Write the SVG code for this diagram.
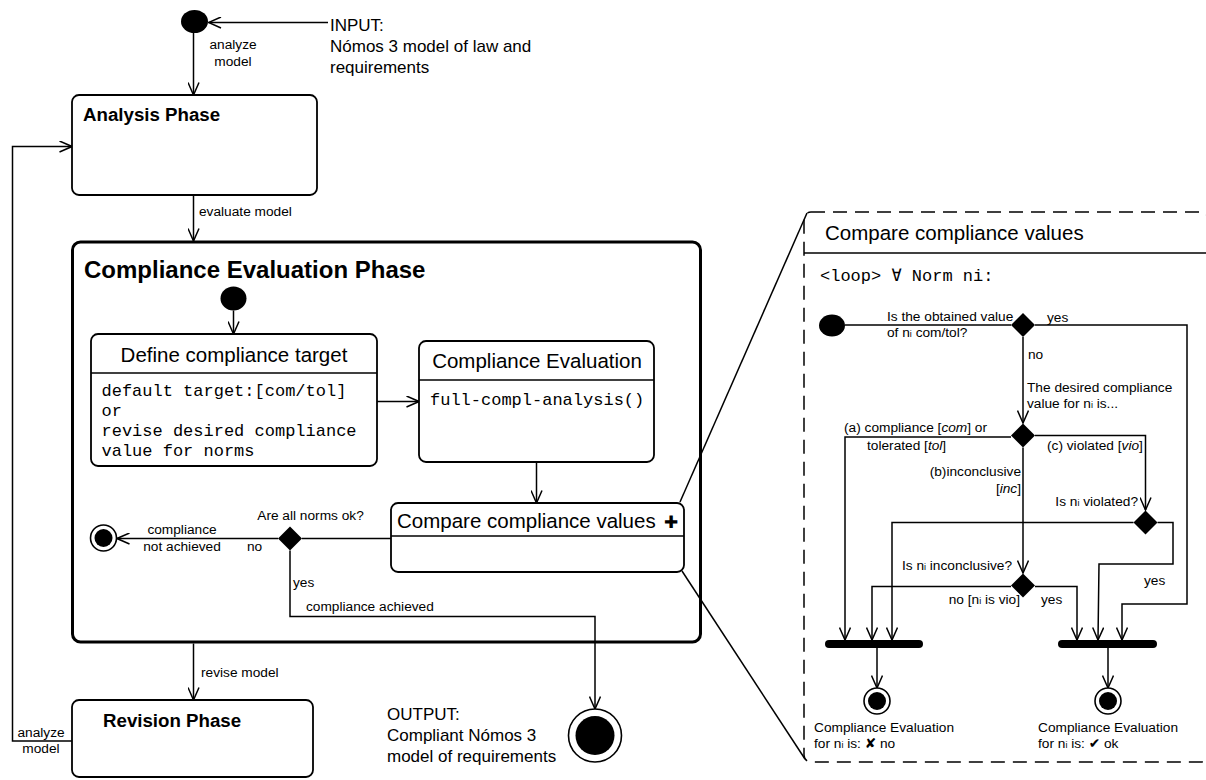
<svg xmlns="http://www.w3.org/2000/svg" width="1206" height="780" viewBox="0 0 1206 780">
  <defs>
    <style>
      .ln { fill: none; stroke: #000; stroke-width: 1.5; }
      .arr { marker-end: url(#open); }
      .box { fill: #fff; stroke: #000; stroke-width: 1.8; }
      .dot { fill: #000; stroke: none; }
      .ring { fill: #fff; stroke: #000; stroke-width: 1.6; }
      .t { font-family: "Liberation Sans", Arial, Helvetica, sans-serif; fill: #000; }
      .lbl { font-size: 13.7px; }
      .big { font-size: 17px; }
      .ttl { font-size: 20.5px; }
      .hd { font-size: 18.7px; font-weight: bold; }
      .mono { font-family: "Liberation Mono", "Courier New", "DejaVu Sans Mono", monospace; font-size: 17px; fill: #000; }
      .sym { font-family: "DejaVu Sans", sans-serif; }
      .sub { font-size: 9px; }
      .mid { text-anchor: middle; }
      .end { text-anchor: end; }
      .bar { stroke: #000; stroke-width: 8; stroke-linecap: round; }
    </style>
    <marker id="open" viewBox="0 0 14 12" refX="13" refY="6" markerWidth="14" markerHeight="12" markerUnits="userSpaceOnUse" orient="auto">
      <path d="M0.5,0.5 L13,6 L0.5,11.5" fill="none" stroke="#000" stroke-width="1.5"/>
    </marker>
  </defs>

  <rect width="1206" height="780" fill="#fff"/>

  <!-- connectors -->
  <g id="connectors">
    <path class="ln arr" d="M328,22.5 L208.5,22.5"/>
    <path class="ln arr" d="M193.5,33 L193.5,95"/>
    <path class="ln arr" d="M193.5,195 L193.5,241"/>
    <path class="ln arr" d="M72,741 L12.5,741 L12.5,146.5 L72,146.5"/>
    <path class="ln arr" d="M233.5,310.5 L233.5,334"/>
    <path class="ln arr" d="M377,401.5 L419,401.5"/>
    <path class="ln arr" d="M536.5,462 L536.5,503"/>
    <path class="ln" d="M391,538.5 L302,538.5"/>
    <path class="ln arr" d="M278,538.5 L117,538.5"/>
    <path class="ln arr" d="M290,550.5 L290,616.5 L595,616.5 L595,709"/>
    <path class="ln arr" d="M193.5,643.5 L193.5,700"/>
    <!-- zoom lines to detail panel -->
    <path class="ln" d="M680,502 L807,213"/>
    <path class="ln" d="M682,571 L805,759"/>
    <!-- detail panel flow -->
    <path class="ln" d="M845,325 L1011,325"/>
    <path class="ln arr" d="M1035,325 L1187,325 L1187,604 L1122,604 L1122,640"/>
    <path class="ln arr" d="M1023,337 L1023,423"/>
    <path class="ln arr" d="M1011,437 L845,437 L845,640"/>
    <path class="ln arr" d="M1035,435.5 L1145.5,435.5 L1145.5,510"/>
    <path class="ln arr" d="M1023,447.5 L1023,573"/>
    <path class="ln arr" d="M1133.5,522.5 L892,522.5 L892,640"/>
    <path class="ln arr" d="M1157.5,522.5 L1173,522.5 L1173,564 L1099,564 L1098,640"/>
    <path class="ln arr" d="M1011,586.5 L872,586.5 L872,640"/>
    <path class="ln arr" d="M1035,586.5 L1077,586.5 L1077,640"/>
    <path class="ln arr" d="M877,648 L877,688"/>
    <path class="ln arr" d="M1108,648 L1108,688"/>
  </g>

  <!-- connector labels -->
  <g id="labels" class="t lbl">
    <text x="233" y="49" class="mid">analyze</text>
    <text x="233" y="66" class="mid">model</text>
    <text x="199" y="216">evaluate model</text>
    <text x="41" y="737" class="mid">analyze</text>
    <text x="41" y="753" class="mid">model</text>
    <text x="201" y="677">revise model</text>
    <text x="310.5" y="520" class="mid">Are all norms ok?</text>
    <text x="182" y="534" class="mid">compliance</text>
    <text x="182" y="551" class="mid">not achieved</text>
    <text x="247" y="551">no</text>
    <text x="293" y="587">yes</text>
    <text x="306" y="611">compliance achieved</text>
  </g>

  <g id="input-note" class="t big">
    <text x="330" y="31">INPUT:</text>
    <text x="330" y="52">Nómos 3 model of law and</text>
    <text x="330" y="73">requirements</text>
  </g>

  <g id="output-note" class="t big">
    <text x="387" y="720">OUTPUT:</text>
    <text x="387" y="741">Compliant Nómos 3</text>
    <text x="387" y="762">model of requirements</text>
  </g>

  <!-- top-level phases -->
  <g id="start">
    <ellipse class="dot" cx="194.5" cy="21.5" rx="13.5" ry="11.5"/>
  </g>

  <g id="analysis-phase">
    <rect class="box" x="72" y="95" width="245" height="100" rx="7"/>
    <text class="t hd" x="83" y="121">Analysis Phase</text>
  </g>

  <g id="compliance-evaluation-phase">
    <rect x="72.5" y="242" width="628" height="400" rx="8" fill="none" stroke="#000" stroke-width="3"/>
    <text class="t" x="84" y="278" font-size="24" font-weight="bold">Compliance Evaluation Phase</text>
  </g>

  <g id="inner-start">
    <ellipse class="dot" cx="233.5" cy="298.5" rx="13" ry="12"/>
  </g>

  <g id="define-target">
    <rect class="box" x="91" y="334" width="286" height="132" rx="7"/>
    <path class="ln" d="M91,373 L377,373"/>
    <text class="t ttl mid" x="234" y="362">Define compliance target</text>
    <text class="mono" x="101.5" y="396">default target:[com/tol]</text>
    <text class="mono" x="101.5" y="416">or</text>
    <text class="mono" x="101.5" y="436">revise desired compliance</text>
    <text class="mono" x="101.5" y="456">value for norms</text>
  </g>

  <g id="compliance-evaluation">
    <rect class="box" x="419" y="341" width="235" height="121" rx="7"/>
    <path class="ln" d="M419,380 L654,380"/>
    <text class="t ttl mid" x="537" y="368">Compliance Evaluation</text>
    <text class="mono" x="430" y="405">full-compl-analysis()</text>
  </g>

  <g id="compare-values">
    <rect class="box" x="391" y="503" width="293" height="69" rx="7"/>
    <path class="ln" d="M391,536 L684,536"/>
    <text class="t ttl" x="397" y="528">Compare compliance values</text>
    <text class="sym" x="664" y="528" font-size="17">✚</text>
  </g>

  <g id="all-norms-ok">
    <polygon class="dot" points="290,526.5 302,538.5 290,550.5 278,538.5"/>
  </g>

  <g id="end-not-achieved">
    <circle class="ring" cx="103.5" cy="538" r="13"/>
    <circle class="dot" cx="103.5" cy="538" r="9"/>
  </g>

  <g id="end-achieved">
    <circle class="ring" cx="595" cy="735.5" r="26.5"/>
    <circle class="dot" cx="595" cy="735.5" r="19.5"/>
  </g>

  <g id="revision-phase">
    <rect class="box" x="72" y="700" width="241" height="77" rx="7"/>
    <text class="t hd" x="103" y="727">Revision Phase</text>
  </g>

  <!-- detail panel -->
  <g id="compare-detail">
    <rect x="804" y="212" width="404" height="550" rx="7" fill="none" stroke="#000" stroke-width="1.5" stroke-dasharray="14 8"/>
    <path class="ln" d="M804,253 L1208,253"/>
    <text class="t ttl" x="825" y="240">Compare compliance values</text>
    <text class="mono" x="820" y="281">&lt;loop&gt; ∀ Norm ni:</text>
  </g>

  <g id="detail-start">
    <ellipse class="dot" cx="832" cy="325.5" rx="13" ry="11"/>
  </g>

  <g id="d-obtained">
    <polygon class="dot" points="1023,313 1035,325 1023,337 1011,325"/>
  </g>
  <g id="d-desired">
    <polygon class="dot" points="1023,423.5 1035,435.5 1023,447.5 1011,435.5"/>
  </g>
  <g id="d-violated">
    <polygon class="dot" points="1145.5,510.5 1157.5,522.5 1145.5,534.5 1133.5,522.5"/>
  </g>
  <g id="d-inconclusive">
    <polygon class="dot" points="1023,573.5 1035,585.5 1023,597.5 1011,585.5"/>
  </g>

  <g id="join-no">
    <line class="bar" x1="829" y1="644" x2="919" y2="644"/>
  </g>
  <g id="join-ok">
    <line class="bar" x1="1062" y1="644" x2="1153" y2="644"/>
  </g>

  <g id="end-no">
    <circle class="ring" cx="877" cy="701" r="13"/>
    <circle class="dot" cx="877" cy="701" r="9"/>
  </g>
  <g id="end-ok">
    <circle class="ring" cx="1108" cy="701" r="13"/>
    <circle class="dot" cx="1108" cy="701" r="9"/>
  </g>

  <g id="detail-labels" class="t lbl">
    <text x="887" y="321">Is the obtained value</text>
    <text x="887" y="337">of n<tspan class="sub">i</tspan> com/tol?</text>
    <text x="1047" y="322">yes</text>
    <text x="1028" y="359">no</text>
    <text x="1027" y="392">The desired compliance</text>
    <text x="1027" y="408">value for n<tspan class="sub">i</tspan> is...</text>
    <text x="844" y="432">(a) compliance [<tspan font-style="italic">com</tspan>] or</text>
    <text x="867" y="450">tolerated [<tspan font-style="italic">tol</tspan>]</text>
    <text x="1047" y="450">(c) violated [<tspan font-style="italic">vio</tspan>]</text>
    <text x="1021" y="476" class="end">(b)inconclusive</text>
    <text x="1021" y="493" class="end">[<tspan font-style="italic">inc</tspan>]</text>
    <text x="1138" y="506" class="end">Is n<tspan class="sub">i</tspan> violated?</text>
    <text x="1012" y="570" class="end">Is n<tspan class="sub">i</tspan> inconclusive?</text>
    <text x="1144" y="585">yes</text>
    <text x="1020" y="604" class="end">no [n<tspan class="sub">i</tspan> is vio]</text>
    <text x="1041" y="604">yes</text>
    <text x="814" y="732">Compliance Evaluation</text>
    <text x="814" y="748">for n<tspan class="sub">i</tspan> is: <tspan class="sym">✘</tspan> no</text>
    <text x="1038" y="732">Compliance Evaluation</text>
    <text x="1038" y="748">for n<tspan class="sub">i</tspan> is: <tspan class="sym">✔</tspan> ok</text>
  </g>
</svg>
